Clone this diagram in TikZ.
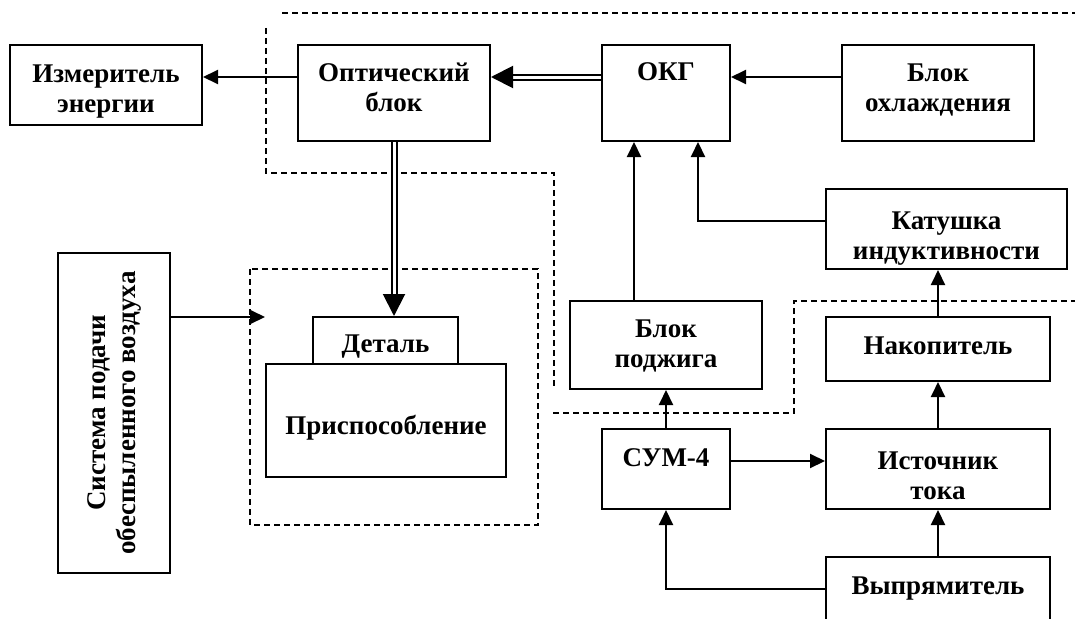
\documentclass[tikz,border=0pt]{standalone}
\usepackage{fontspec}
\setmainfont{Liberation Serif}
\usetikzlibrary{arrows.meta}
\begin{document}
\begin{tikzpicture}[x=1pt,y=-1pt,
  box/.style={draw,line width=2pt,rectangle,inner sep=0pt,align=center,
    font=\bfseries\fontsize{27}{30}\selectfont},
  td/.style={text height=30pt,text depth=#1},
  tdd/.style={text height=60pt,text depth=#1},
  arr/.style={line width=2pt,-{Triangle[length=15pt,width=14pt]}},
  dbl/.style={double,line width=2pt,double distance=3pt,
    -{Triangle[length=22pt,width=22pt]}},
  grp/.style={line width=1.3pt,dash pattern=on 6pt off 4pt}]
\useasboundingbox (0,0) rectangle (1075,618);
\clip (0,0) rectangle (1075,618);

% boxes
\node[box,tdd=6pt,minimum width=192pt,minimum height=80pt] (izm) at (106,85) {Измеритель\\энергии};
\node[box,tdd=24pt,minimum width=192pt,minimum height=96pt] (opt) at (394,93) {Оптический\\блок};
\node[box,td=54pt,minimum width=128pt,minimum height=96pt] (okg) at (666,93) {ОКГ};
\node[box,tdd=24pt,minimum width=192pt,minimum height=96pt] (ohl) at (938,93) {Блок\\охлаждения};
\node[box,tdd=0pt,minimum width=241pt,minimum height=80pt] (kat) at (946.5,229) {Катушка\\индуктивности};
\node[box,tdd=16pt,minimum width=192pt,minimum height=88pt] (podj) at (666,345) {Блок\\поджига};
\node[box,td=20pt,minimum width=224pt,minimum height=64pt] (nak) at (938,349) {Накопитель};
\node[box,td=36pt,minimum width=128pt,minimum height=80pt] (sum) at (666,469) {СУМ-4};
\node[box,tdd=0pt,minimum width=224pt,minimum height=80pt] (ist) at (938,469) {Источник\\тока};
\node[box,td=46pt,minimum width=224pt,minimum height=90pt] (vyp) at (938,602) {Выпрямитель};
\node[box,rotate=90,minimum width=320pt,minimum height=112pt] (sys) at (114,413) {Система подачи\\обеспыленного воздуха};
\node[box,td=7pt,minimum width=145pt,minimum height=47pt] (det) at (385.5,340.5) {Деталь};
\node[box,td=3pt,minimum width=240pt,minimum height=113pt] (pri) at (386,420.5) {Приспособление};

% dashed group outlines
\draw[grp] (282,13) -- (1075,13);
\draw[grp] (266,28) -- (266,173) -- (554,173) -- (554,388);
\draw[grp] (553,413) -- (794,413) -- (794,301) -- (1075,301);
\draw[grp] (250,269) rectangle (538,525);

% connectors
\draw[arr] ([yshift=16pt]opt.west) -- ([yshift=16pt]opt.west -| izm.east);
\draw[dbl] ([yshift=16pt]okg.west) -- ([yshift=16pt]okg.west -| opt.east);
\draw[arr] ([yshift=16pt]ohl.west) -- ([yshift=16pt]ohl.west -| okg.east);
\draw[dbl] (opt.south) -- (opt.south |- det.north);
\draw[arr] ([xshift=-32pt]podj.north) -- ([xshift=-32pt]okg.south);
\draw[arr] ([yshift=8pt]kat.west) -| ([xshift=32pt]okg.south);
\draw[arr] (nak.north) -- (nak.north |- kat.south);
\draw[arr] (ist.north) -- (nak.south);
\draw[arr] (vyp.north) -- (ist.south);
\draw[arr] (sum.north) -- (podj.south);
\draw[arr] ([yshift=8pt]sum.east) -- ([yshift=8pt]sum.east -| ist.west);
\draw[arr] ([yshift=13pt]vyp.west) -| (sum.south);
\draw[arr] ([yshift=96pt]sys.south) -- ([yshift=96pt]sys.south -| pri.west);
\end{tikzpicture}
\end{document}
